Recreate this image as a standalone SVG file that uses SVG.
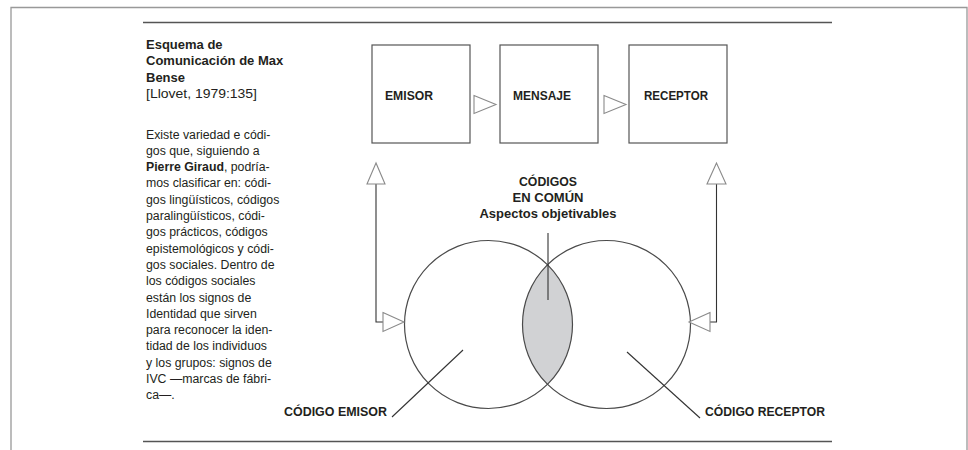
<svg xmlns="http://www.w3.org/2000/svg" width="968" height="450" viewBox="0 0 968 450">
<defs>
<style>
.t{font-family:"Liberation Sans",Arial,sans-serif;fill:#231f20}
.p{font-size:12.3px}
.b{font-weight:bold}
.h{font-size:13px;font-weight:bold}
.lbl{font-size:13.5px;font-weight:bold}
.box{fill:#fff;stroke:#555;stroke-width:1.2}
.tri{fill:#fff;stroke:#8a8a8a;stroke-width:1.1}
.ln{fill:none;stroke:#333;stroke-width:1.1}
.circ{fill:none;stroke:#4a4a4a;stroke-width:1.2}
.rule{fill:none;stroke:#555;stroke-width:1.3}
</style>
<clipPath id="lc"><circle cx="488.5" cy="324.5" r="84"/></clipPath>
</defs>
<rect width="968" height="450" fill="#fff"/>
<path d="M11,450 V7.5 H967 V450" fill="none" stroke="#999" stroke-width="1.3"/>
<line class="rule" x1="143" y1="22.5" x2="832" y2="22.5"/>
<line class="rule" x1="143" y1="441.5" x2="832" y2="441.5"/>

<g id="sidebar" class="t">
<text class="h" x="146" y="49">Esquema de</text>
<text class="h" x="146" y="65.3">Comunicación de Max</text>
<text class="h" x="146" y="81.6">Bense</text>
<text class="p" x="146" y="97.9" textLength="111" lengthAdjust="spacingAndGlyphs">[Llovet, 1979:135]</text>
<text class="p" x="146" y="138.5">Existe variedad e códi-</text>
<text class="p" x="146" y="154.8">gos que, siguiendo a</text>
<text class="p" x="146" y="171.1"><tspan class="b">Pierre Giraud</tspan>, podría-</text>
<text class="p" x="146" y="187.4">mos clasificar en: códi-</text>
<text class="p" x="146" y="203.7">gos lingüísticos, códigos</text>
<text class="p" x="146" y="220">paralingüísticos, códi-</text>
<text class="p" x="146" y="236.3">gos prácticos, códigos</text>
<text class="p" x="146" y="252.6">epistemológicos y códi-</text>
<text class="p" x="146" y="268.9">gos sociales. Dentro de</text>
<text class="p" x="146" y="285.2">los códigos sociales</text>
<text class="p" x="146" y="301.5">están los signos de</text>
<text class="p" x="146" y="317.8">Identidad que sirven</text>
<text class="p" x="146" y="334.1">para reconocer la iden-</text>
<text class="p" x="146" y="350.4">tidad de los individuos</text>
<text class="p" x="146" y="366.7">y los grupos: signos de</text>
<text class="p" x="146" y="383">IVC —marcas de fábri-</text>
<text class="p" x="146" y="399.3">ca—.</text>
</g>

<g id="emisor">
<rect class="box" x="372" y="45" width="98" height="98"/>
<text class="t lbl" x="385" y="100" textLength="48" lengthAdjust="spacingAndGlyphs">EMISOR</text>
</g>
<g id="mensaje">
<rect class="box" x="500" y="45" width="98" height="98"/>
<text class="t lbl" x="513" y="100" textLength="58" lengthAdjust="spacingAndGlyphs">MENSAJE</text>
</g>
<g id="receptor">
<rect class="box" x="629" y="45" width="98" height="98"/>
<text class="t lbl" x="644" y="100" textLength="64" lengthAdjust="spacingAndGlyphs">RECEPTOR</text>
</g>

<g id="codigos-comun">
<circle cx="606.5" cy="324.5" r="84" fill="#d1d2d4" clip-path="url(#lc)"/>
<text class="t lbl" x="548" y="185.5" text-anchor="middle" textLength="58" lengthAdjust="spacingAndGlyphs">CÓDIGOS</text>
<text class="t lbl" x="548" y="201.5" text-anchor="middle" textLength="71" lengthAdjust="spacingAndGlyphs">EN COMÚN</text>
<text class="t lbl" x="548" y="217.5" text-anchor="middle" textLength="137" lengthAdjust="spacingAndGlyphs">Aspectos objetivables</text>
</g>
<g id="codigo-emisor">
<circle class="circ" cx="488.5" cy="324.5" r="84"/>
<text class="t lbl" x="284" y="416" textLength="103" lengthAdjust="spacingAndGlyphs">CÓDIGO EMISOR</text>
</g>
<g id="codigo-receptor">
<circle class="circ" cx="606.5" cy="324.5" r="84"/>
<text class="t lbl" x="705" y="416" textLength="120" lengthAdjust="spacingAndGlyphs">CÓDIGO RECEPTOR</text>
</g>

<g id="connectors">
<polygon class="tri" points="474,95.5 496,104.5 474,113.5"/>
<polygon class="tri" points="604,95.5 626,104.5 604,113.5"/>
<path class="ln" d="M376,184 V322 H383"/>
<polygon class="tri" points="376,163 367,184 385,184"/>
<polygon class="tri" points="383,312.5 404,322 383,331.5"/>
<path class="ln" d="M716.5,184 V322 H710"/>
<polygon class="tri" points="716.5,163 707,184 726,184"/>
<polygon class="tri" points="710,312.5 689,322 710,331.5"/>
<line class="ln" x1="548" y1="233" x2="548" y2="300"/>
<line class="ln" x1="463" y1="350" x2="392" y2="417"/>
<line class="ln" x1="627" y1="352" x2="700" y2="418"/>
</g>
</svg>
